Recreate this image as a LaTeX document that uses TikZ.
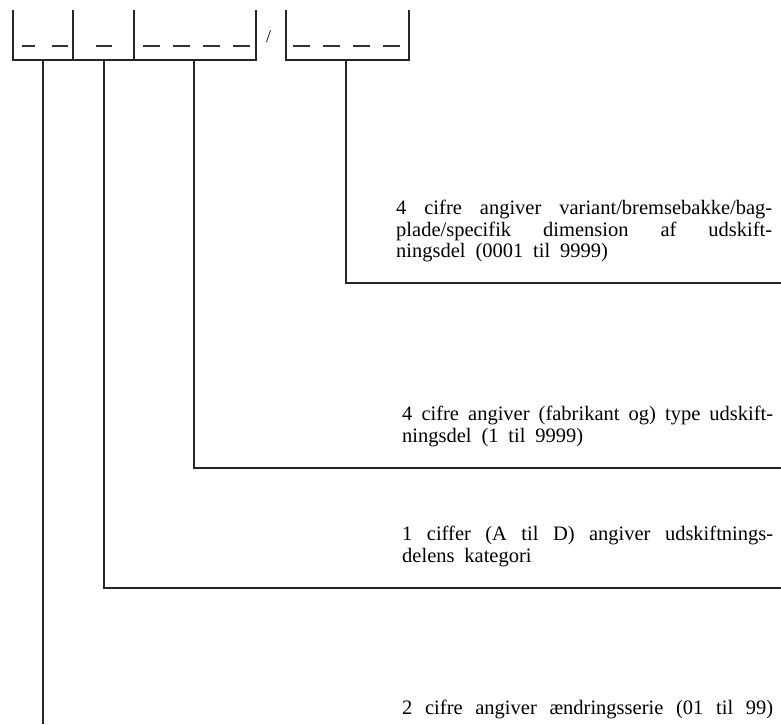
\documentclass[tikz,border=0pt]{standalone}
\usepackage{fontspec}
\setmainfont{Liberation Serif}
\newcommand{\widesp}{\spaceskip=0.48em plus 0.3em minus 0.15em\relax}
\begin{document}
\begin{tikzpicture}[x=1pt,y=-1pt,
  frame/.style={line width=1.4pt,draw=black!85},
  dashmark/.style={line width=1.3pt,draw=black!80},
  conn/.style={line width=1.5pt,draw=black!85},
  txt/.style={inner sep=0pt,anchor=north west,align=left,
    font=\fontsize{20.5}{21.5}\selectfont}]
\useasboundingbox (0,0) rectangle (781,724);
% boxes
\draw[frame] (13,10) -- (13,60) -- (256,60) -- (256,10);
\draw[frame] (73,10) -- (73,60);
\draw[frame] (134,10) -- (134,60);
\draw[frame] (286,10) -- (286,60) -- (409,60) -- (409,10);
% dashes
\foreach \a/\b in {22/35,52/68,96/112,143/160,173/190,203/220,233/250,293/310,323/340,353/370,383/400}
  \draw[dashmark] (\a,46) -- (\b,46);
\node[inner sep=0pt,font=\fontsize{18}{18}\selectfont] (slash) at (268.5,37) {/};
% connector start and end points
\coordinate (s1) at (43,60);
\coordinate (s2) at (104,60);
\coordinate (s3) at (194,60);
\coordinate (s4) at (346,60);
\coordinate (e1) at (43,724);
\coordinate (e2) at (781,588);
\coordinate (e3) at (781,468);
\coordinate (e4) at (781,283);
\draw[conn] (s1) -- (e1);
\draw[conn] (s2) |- (e2);
\draw[conn] (s3) |- (e3);
\draw[conn] (s4) |- (e4);
% texts
\node[txt,text width=376pt] (tA) at (396,199.35) {\widesp\strut\makebox[376pt][s]{4 cifre angiver variant/bremsebakke/bag-}\\
\makebox[376pt][s]{plade/specifik dimension af udskift-}\\
ningsdel (0001 til 9999)};
\node[txt,text width=371pt] (tB) at (402,405.65) {\widesp\strut\makebox[371pt][s]{4 cifre angiver (fabrikant og) type udskift-}\\
ningsdel (1 til 9999)};
\node[txt,text width=371pt] (tC) at (402,525.35) {\widesp\strut\makebox[371pt][s]{1 ciffer (A til D) angiver udskiftnings-}\\
delens kategori};
\node[txt,text width=371pt] (tD) at (402,698.95) {\widesp\strut\makebox[371pt][s]{2 cifre angiver ændringsserie (01 til 99)}};
\end{tikzpicture}
\end{document}
